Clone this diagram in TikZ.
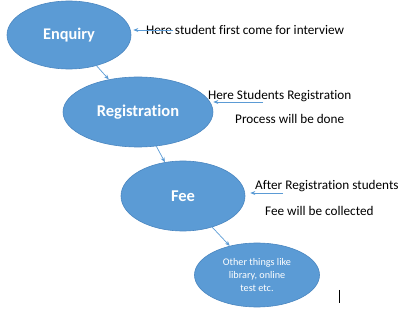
\documentclass[tikz,border=0pt]{standalone}
\usepackage{fontspec}
\setmainfont{Carlito}[Ligatures=NoCommon]
\usetikzlibrary{shapes.geometric, arrows.meta}

\definecolor{officeblue}{HTML}{5B9BD5}
\definecolor{officeedge}{HTML}{4A86C0}

\begin{document}
\begin{tikzpicture}[x=1pt, y=-1pt,
    stage/.style={ellipse, fill=officeblue, draw=officeedge, line width=0.6pt, inner sep=0pt, text=white},
    flow/.style={-{Stealth[length=5pt, width=4pt]}, draw=officeblue, line width=0.7pt},
    note/.style={font=\fontsize{13.2}{15}\selectfont, anchor=west, inner sep=0pt}]
    % Units: 1 = one pixel of the 400x310 reference, y pointing down
    \useasboundingbox (0,0) rectangle (400,310);

    % Process stages
    \node[stage, minimum width=124, minimum height=68, font=\fontsize{16.3}{18}\bfseries] (enquiry) at (69,35) {Enquiry};
    \node[stage, minimum width=150, minimum height=70, font=\fontsize{16.5}{18}\bfseries] (registration) at (138,112) {Registration};
    \node[stage, minimum width=124, minimum height=70, font=\fontsize{16.5}{18}\bfseries] (fee) at (183,196) {Fee};
    \node[stage, minimum width=125, minimum height=64, align=center, font=\fontsize{10.2}{13.5}\selectfont] (other) at (257,275) {Other things like\\library, online\\test etc.};

    % Stage to stage
    \draw[flow] (enquiry) -- (registration);
    \draw[flow] (registration) -- (fee);
    \draw[flow] (fee) -- (other);

    % Notes beside the stages
    \node[note] (enqnote) at (146,30) {Here student first come for interview};
    \node[note] (regnote) at (208,96) {Here Students Registration};
    \node[note] (regnote2) at (235,119) {Process will be done};
    \node[note] (feenote) at (255,186) {After Registration students};
    \node[note] (feenote2) at (265,211) {Fee will be collected};

    % Note pointers
    \coordinate (enqtail) at (173,30);
    \coordinate (regtail) at (263,102);
    \coordinate (feetail) at (283,193);
    \draw[flow] (enqtail) -- ([xshift=2]enquiry.east |- enqtail);
    \draw[flow] (regtail) -- (registration.east |- regtail);
    \draw[flow] (feetail) -- ([xshift=5]fee.east |- feetail);

    % Text cursor
    \draw[line width=0.6pt] (339,290) -- (339,303);
\end{tikzpicture}
\end{document}
